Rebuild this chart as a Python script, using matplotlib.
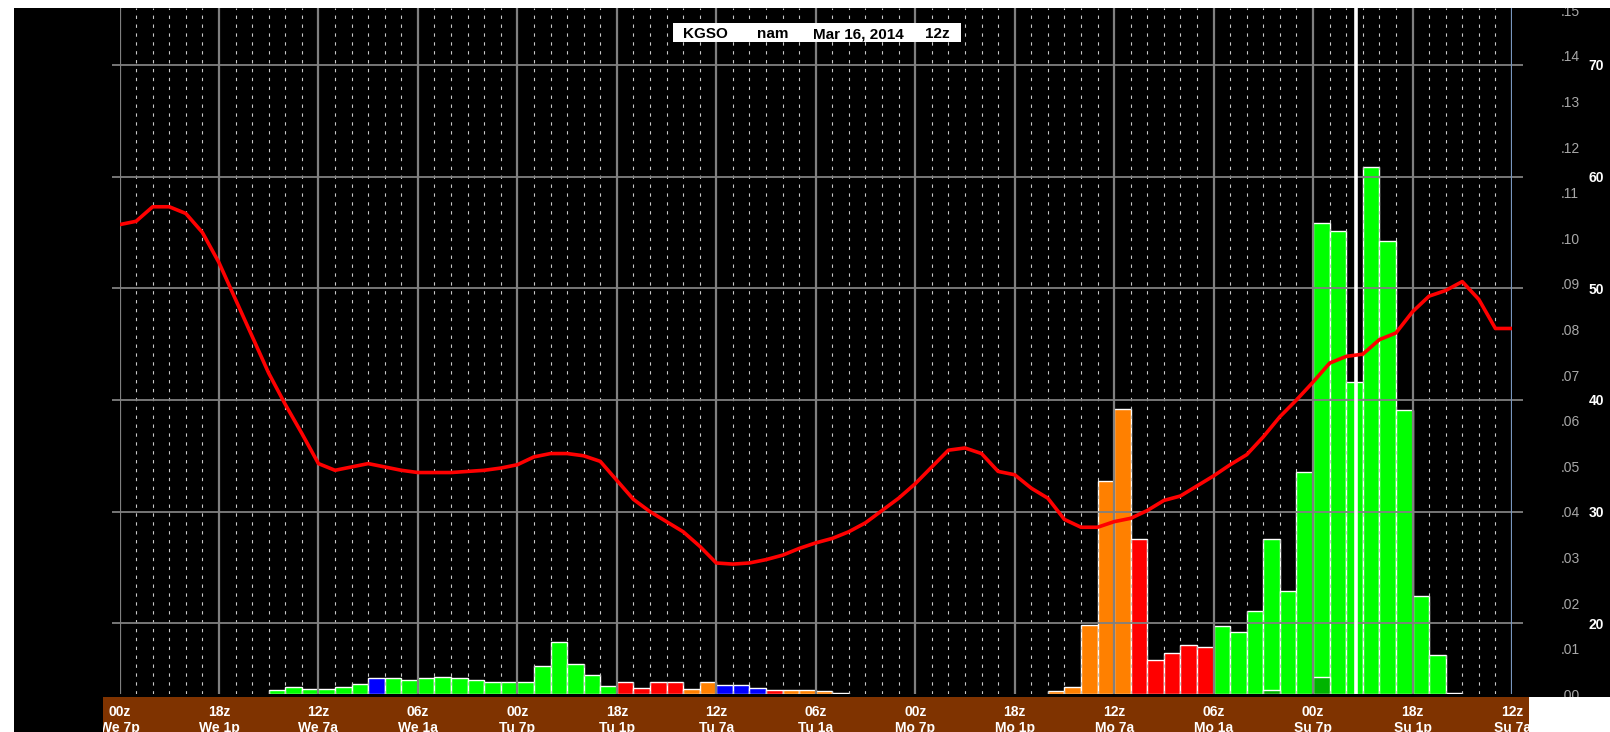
import matplotlib
matplotlib.use("Agg")
import matplotlib.pyplot as plt
from matplotlib.patches import Rectangle

plt.rcParams['font.family'] = ['Liberation Sans', 'DejaVu Sans']

# ---- data (hours counted back from We 00z) ----
bar_hours = [9, 10, 11, 12, 13, 14, 15, 16, 17, 18, 19, 20, 21, 22, 23, 24,
             25, 26, 27, 28, 29, 30, 31, 32, 33, 34, 35, 36, 37, 38, 39, 40,
             41, 42, 43,
             56, 57, 58, 59, 60, 61, 62, 63, 64, 65, 66, 67, 68, 69, 70, 71,
             72, 73, 74, 75, 76, 77, 78, 79, 80]
bar_precip = [0.0010, 0.0016, 0.0011, 0.0011, 0.0016, 0.0023, 0.0035, 0.0035,
              0.0031, 0.0035, 0.0039, 0.0035, 0.0031, 0.0027, 0.0027, 0.0027,
              0.0062, 0.0115, 0.0066, 0.0042, 0.0018, 0.0027, 0.0014, 0.0027,
              0.0027, 0.0011, 0.0027, 0.0021, 0.0021, 0.0014, 0.0009, 0.0009,
              0.0009, 0.0007, 0.0003,
              0.0008, 0.0016, 0.0151, 0.0467, 0.0626, 0.0340, 0.0075, 0.0090,
              0.0109, 0.0103, 0.0149, 0.0136, 0.0182, 0.0340, 0.0226, 0.0488,
              0.1034, 0.1015, 0.0684, 0.1157, 0.0995, 0.0624, 0.0215, 0.0086,
              0.0003]
bar_type = ['G', 'G', 'G', 'G', 'G', 'G', 'B', 'G', 'G', 'G', 'G', 'G', 'G', 'G', 'G', 'G',
            'G', 'G', 'G', 'G', 'G', 'R', 'R', 'R', 'R', 'O', 'O', 'B', 'B', 'B', 'R', 'O',
            'O', 'O', 'W',
            'O', 'O', 'O', 'O', 'O', 'R', 'R', 'R', 'R', 'R', 'G', 'G', 'G', 'G', 'G', 'G',
            'G', 'G', 'G', 'G', 'G', 'G', 'G', 'G', 'W']

inner_hours = [69, 72]
inner_precip = [0.0009, 0.0037]

temps = [55.7, 56.0, 57.3, 57.3, 56.7, 55.0, 52.3, 49.0, 45.7, 42.4,
         39.6, 37.0, 34.3, 33.7, 34.0, 34.3, 34.0, 33.7, 33.5, 33.5,
         33.5, 33.6, 33.7, 33.9, 34.2, 34.9, 35.2, 35.2, 35.0, 34.5,
         32.8, 31.1, 30.0, 29.1, 28.2, 26.9, 25.4, 25.3, 25.4, 25.7,
         26.1, 26.7, 27.2, 27.6, 28.2, 29.0, 30.1, 31.2, 32.5, 34.0,
         35.5, 35.7, 35.2, 33.6, 33.3, 32.1, 31.2, 29.3, 28.6, 28.6,
         29.1, 29.4, 30.1, 31.0, 31.4, 32.3, 33.2, 34.2, 35.1, 36.7,
         38.5, 40.0, 41.6, 43.3, 43.9, 44.1, 45.4, 46.0, 47.9, 49.3,
         49.8, 50.6, 49.0, 46.4, 46.4]
temp_hours = list(range(len(temps)))

marker_hour = 74.6

z_labels = ['00z', '18z', '12z', '06z', '00z', '18z', '12z', '06z',
            '00z', '18z', '12z', '06z', '00z', '18z', '12z']
day_labels = ['We 7p', 'We 1p', 'We 7a', 'We 1a', 'Tu 7p', 'Tu 1p', 'Tu 7a', 'Tu 1a',
              'Mo 7p', 'Mo 1p', 'Mo 7a', 'Mo 1a', 'Su 7p', 'Su 1p', 'Su 7a']
precip_ticks = [i / 100 for i in range(16)]
temp_ticks = [20, 30, 40, 50, 60, 70]

type_colors = {'G': '#00ff00', 'B': '#0000ff', 'R': '#ff0000',
               'O': '#ff8000', 'W': '#ffffff'}

# ---- layout (pixels measured from the top-left corner) ----
W, H = 1610, 732
x0, x1 = 119.5, 1512.0
y_top, y_bot = 8.0, 694.3
nhours = 84


def fx(px):
    return px / W


def fy(py):
    return 1 - py / H


fig = plt.figure(figsize=(W / 100, H / 100), dpi=100, facecolor='black')

ax = fig.add_axes([fx(x0), fy(y_bot), fx(x1 - x0), (y_bot - y_top) / H])
ax.set_facecolor('black')
ax.set_xlim(0, nhours)
ax.set_ylim(0, 0.1505)

ax.bar(bar_hours, bar_precip, width=1, align='edge',
       color=[type_colors[t] for t in bar_type],
       edgecolor='white', linewidth=1.0, zorder=2)
ax.bar(inner_hours, inner_precip, width=1, align='edge', color='#00b400',
       edgecolor='white', linewidth=1.0, zorder=3)

ax2 = ax.twinx()
ax2.set_ylim(13.64, 75.1)
ax2.set_xlim(0, nhours)

for a in (ax, ax2):
    for s in a.spines.values():
        s.set_visible(False)
ax.set_xticks([])

ax.yaxis.tick_right()
ax.set_yticks(precip_ticks)
ax.set_yticklabels(['.%02d' % round(v * 100) for v in precip_ticks])
ax.tick_params(axis='y', length=0, pad=35, labelsize=10, labelcolor='#a8a8a8')

ax2.set_yticks(temp_ticks)
ax2.set_yticklabels([str(t) for t in temp_ticks], fontweight='bold')
ax2.tick_params(axis='y', length=0, pad=55, labelsize=10, labelcolor='white')

# grid
for h in range(1, nhours):
    if h % 6:
        ax2.axvline(h, color='#c8c8c8', lw=0.8, ls=(0, (3, 5)), zorder=1)
for h in range(0, nhours, 6):
    ax2.axvline(h, color='#808080', lw=1.6, zorder=2)
ax2.hlines(temp_ticks, -0.45, nhours + 0.65, color='#808080', lw=1.3,
           zorder=2, clip_on=False)
ax2.axvline(nhours, color='#7896be', lw=1.6, zorder=2)
ax2.axvline(marker_hour, color='white', lw=2.6, zorder=3)

ax2.plot(temp_hours, temps, color='#ff0000', lw=2.6, zorder=5)

# brown time band
bx0, bx1 = 102.5, 1528.6
bx = fig.add_axes([fx(bx0), 0, fx(bx1 - bx0), 35 / H])
bx.set_facecolor('#7f3300')
pph = (x1 - x0) / nhours
bx.set_xlim((bx0 - x0) / pph, (bx1 - x0) / pph)
bx.set_ylim(0, 1)
bx.set_xticks([])
bx.set_yticks([])
for s in bx.spines.values():
    s.set_visible(False)
for i, (zl, dl) in enumerate(zip(z_labels, day_labels)):
    bx.text(6 * i, 0.46, zl, ha='center', va='baseline', color='white',
            fontsize=10, fontweight='bold', clip_on=True)
    bx.text(6 * i, 0.01, dl, ha='center', va='baseline', color='white',
            fontsize=10, fontweight='bold', clip_on=True)

# white margins
fig.patches.append(Rectangle((0, fy(8)), 1, 8 / H, transform=fig.transFigure,
                             facecolor='white', edgecolor='none', zorder=10))
fig.patches.append(Rectangle((0, 0), fx(14), 1, transform=fig.transFigure,
                             facecolor='white', edgecolor='none', zorder=10))
fig.patches.append(Rectangle((fx(bx1), 0), 1 - fx(bx1), 35 / H,
                             transform=fig.transFigure, facecolor='white',
                             edgecolor='none', zorder=10))

# title box
fig.patches.append(Rectangle((fx(672.7), fy(42.3)), fx(288), 19 / H,
                             transform=fig.transFigure, facecolor='white',
                             edgecolor='none', zorder=11))
for txt, px in [('KGSO', 682.7), ('nam', 756.7), ('Mar 16, 2014', 813), ('12z', 925)]:
    fig.text(fx(px), fy(38.3), txt, ha='left', va='baseline', color='black',
             fontsize=11, fontweight='bold', zorder=12)

fig.savefig('out.png', dpi=100, facecolor='black')
